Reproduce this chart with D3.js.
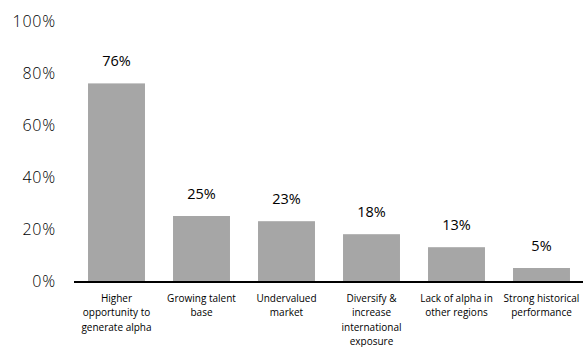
<!DOCTYPE html>
<html>
<head>
<meta charset="utf-8">
<script src="https://cdn.jsdelivr.net/npm/d3@7"></script>
<style>
  body { margin: 0; background: #fff; }
  #chart text { fill: #000; }
</style>
</head>
<body>
<div id="chart"></div>
<script>
// Data
const categories = [
  ["Higher", "opportunity to", "generate alpha"],
  ["Growing talent", "base"],
  ["Undervalued", "market"],
  ["Diversify &", "increase", "international", "exposure"],
  ["Lack of alpha in", "other regions"],
  ["Strong historical", "performance"]
];
const values = [76, 25, 23, 18, 13, 5];
const yTicks = [0, 20, 40, 60, 80, 100];

const totalWidth = 583, totalHeight = 347;

const svg = d3.select("#chart")
  .append("svg")
  .attr("width", totalWidth)
  .attr("height", totalHeight);

const x = d3.scaleBand()
  .domain(d3.range(values.length))
  .range([74, 584])
  .paddingInner(0.33)
  .paddingOuter(0.165);

const y = d3.scaleLinear()
  .domain([0, 100])
  .range([281, 21]);

// y tick labels (no axis line)
svg.append("g")
  .selectAll("text")
  .data(yTicks)
  .enter()
  .append("text")
  .attr("x", 56)
  .attr("y", d => y(d))
  .attr("dy", "0.36em")
  .style("text-anchor", "end")
  .style("font-family", "'Open Sans', sans-serif")
  .style("font-weight", 300)
  .style("letter-spacing", "0.8px")
  .style("font-size", "16px")
  .text(d => d + "%");

// bars
svg.append("g")
  .selectAll("rect")
  .data(values)
  .enter()
  .append("rect")
  .attr("x", (d, i) => x(i))
  .attr("y", d => y(d))
  .attr("width", x.bandwidth())
  .attr("height", d => y(0) - y(d))
  .attr("fill", "#a6a6a6");

// value labels
svg.append("g")
  .selectAll("text")
  .data(values)
  .enter()
  .append("text")
  .attr("x", (d, i) => x(i) + x.bandwidth() / 2)
  .attr("y", d => y(d) - 17)
  .style("text-anchor", "middle")
  .style("font-family", "'Open Sans', sans-serif")
  .style("font-size", "14.5px")
  .text(d => d + "%");

// baseline
svg.append("line")
  .attr("x1", 74)
  .attr("x2", 583)
  .attr("y1", y(0) + 1)
  .attr("y2", y(0) + 1)
  .attr("stroke", "#000")
  .attr("stroke-width", 2);

// category labels
const cat = svg.append("g")
  .selectAll("text")
  .data(categories)
  .enter()
  .append("text")
  .attr("x", (d, i) => x(i) + x.bandwidth() / 2)
  .attr("y", 302)
  .style("text-anchor", "middle")
  .style("font-family", "'Open Sans', sans-serif")
  .style("font-size", "10px");

cat.selectAll("tspan")
  .data(d => d)
  .enter()
  .append("tspan")
  .attr("x", function () { return this.parentNode.getAttribute("x"); })
  .attr("dy", (d, i) => i === 0 ? 0 : 14.3)
  .text(d => d);
</script>
</body>
</html>
